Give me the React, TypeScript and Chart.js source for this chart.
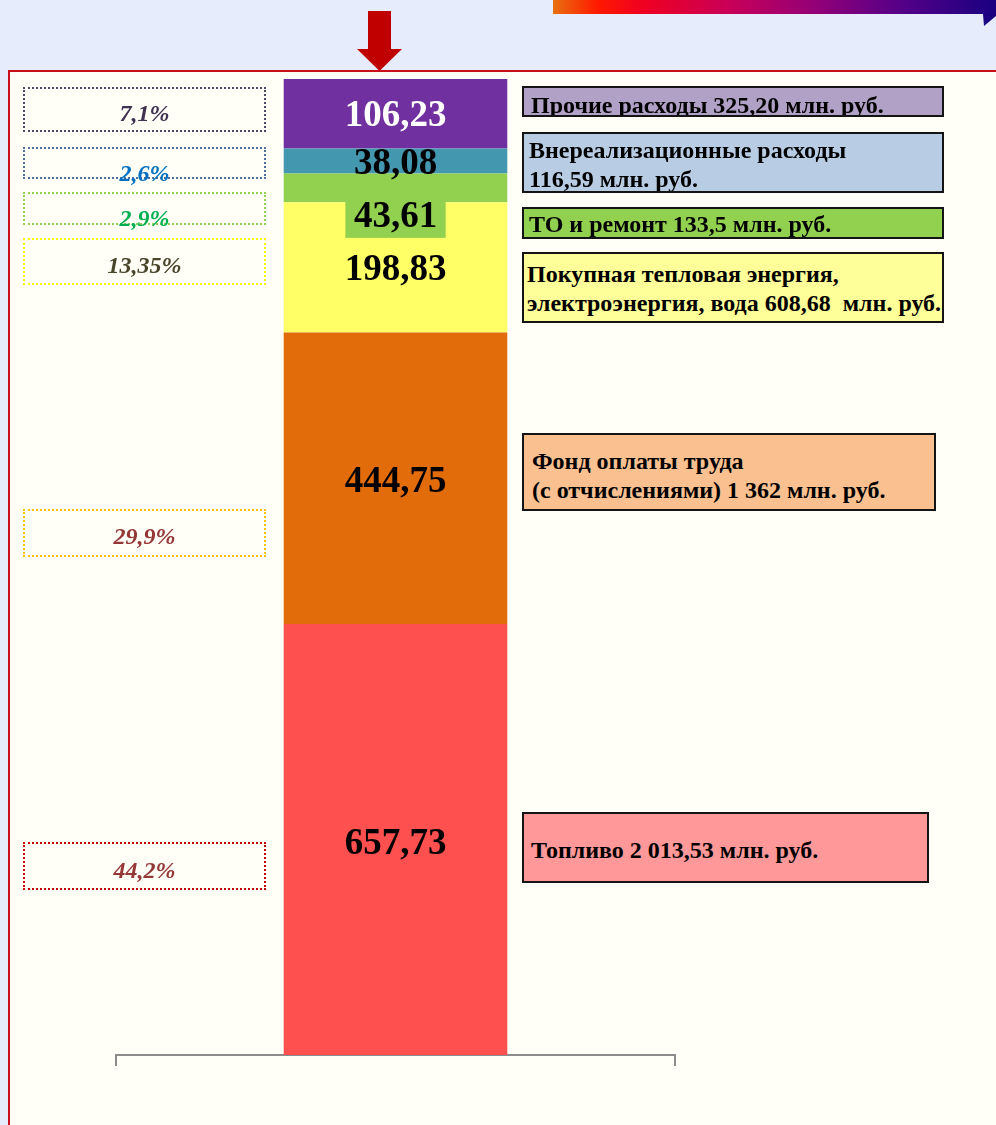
import React, { useEffect, useRef } from "react";
import { Chart, registerables } from "chart.js";

Chart.register(...registerables);

// ---- data (bottom to top of the stacked column) ----
const segmentNames = [
  "Топливо",
  "Фонд оплаты труда",
  "Покупная тепловая энергия, электроэнергия, вода",
  "ТО и ремонт",
  "Внереализационные расходы",
  "Прочие расходы",
];
const segmentValues = [657.73, 444.75, 198.83, 43.61, 38.08, 106.23];
const segmentColors = ["#FF5050", "#E36C0A", "#FFFF66", "#92D050", "#4398AF", "#7030A0"];
const labelColors = ["#000000", "#000000", "#000000", "#000000", "#000000", "#FFFFFF"];
const labelShift = [5, 4, 3, 30, 3, 3];
const labelBg = [null, null, null, "#92D050", null, null];

const percentTexts = ["44,2%", "29,9%", "13,35%", "2,9%", "2,6%", "7,1%"];
const percentColors = ["#953735", "#953735", "#4A452A", "#00B050", "#0070C0", "#403151"];
const percentBorders = ["#C00000", "#FFC000", "#FFFF00", "#92D050", "#4F6FA0", "#4A4A6A"];

const legendLines = [
  ["Топливо 2 013,53 млн. руб."],
  ["Фонд оплаты труда", "(с отчислениями) 1 362 млн. руб."],
  ["Покупная тепловая энергия,", "электроэнергия, вода 608,68  млн. руб."],
  ["ТО и ремонт 133,5 млн. руб."],
  ["Внереализационные расходы", "116,59 млн. руб."],
  ["Прочие расходы 325,20 млн. руб."],
];
const legendFills = ["#FF9999", "#FAC090", "#FFFF99", "#92D050", "#B8CCE4", "#B2A1C7"];

// ---- layout of annotation boxes (not data) ----
const legendBoxes = [
  { top: 812, height: 71, width: 407, padTop: 22.4, padLeft: 7 },
  { top: 433, height: 78, width: 414, padTop: 12.4, padLeft: 8 },
  { top: 252, height: 71, width: 422, padTop: 6.4, padLeft: 3 },
  { top: 207, height: 32, width: 422, padTop: 1.4, padLeft: 5 },
  { top: 132, height: 61, width: 422, padTop: 2.4, padLeft: 5 },
  { top: 86, height: 31, width: 422, padTop: 3.4, padLeft: 7 },
];
const percentBoxes = [
  { top: 842, height: 48, baseline: 878 },
  { top: 509, height: 48, baseline: 544 },
  { top: 238, height: 47, baseline: 273 },
  { top: 192, height: 33, baseline: 226 },
  { top: 147, height: 32, baseline: 181 },
  { top: 87, height: 45, baseline: 121 },
];

const SERIF = '"Liberation Serif", "Times New Roman", serif';
const total = segmentValues.reduce((a, b) => a + b, 0);
const fmt = (v: number) => v.toFixed(2).replace(".", ",");

const labelPlugin = {
  id: "segLabels",
  afterDatasetsDraw(chart: any) {
    const ctx = chart.ctx as CanvasRenderingContext2D;
    ctx.save();
    ctx.font = `bold 37px ${SERIF}`;
    ctx.textAlign = "center";
    ctx.textBaseline = "middle";
    chart.data.datasets.forEach((ds: any, i: number) => {
      const meta = chart.getDatasetMeta(i);
      meta.data.forEach((el: any, j: number) => {
        const p = el.getProps(["x", "y", "base"], true);
        const cy = (p.y + p.base) / 2 + labelShift[i];
        const text = fmt(ds.data[j]);
        if (labelBg[i]) {
          const w = ctx.measureText(text).width + 17;
          ctx.fillStyle = labelBg[i] as string;
          ctx.fillRect(p.x - w / 2, cy - 16, w, 36);
        }
        ctx.fillStyle = labelColors[i];
        ctx.fillText(text, p.x, cy);
      });
    });
    ctx.restore();
  },
};

export default function App() {
  const ref = useRef<HTMLCanvasElement>(null);
  useEffect(() => {
    document.body.style.margin = "0";
    if (!ref.current) return;
    const chart = new Chart(ref.current, {
      type: "bar",
      data: {
        labels: [""],
        datasets: segmentNames.map((name, i) => ({
          label: name,
          data: [segmentValues[i]],
          backgroundColor: segmentColors[i],
          borderWidth: 0,
          stack: "s",
          categoryPercentage: 0.4,
          barPercentage: 1,
        })),
      },
      options: {
        responsive: false,
        animation: false,
        layout: { padding: { left: 116, right: 321, top: 79, bottom: 59 } },
        plugins: { legend: { display: false }, tooltip: { enabled: false } },
        scales: {
          x: {
            stacked: true,
            offset: true,
            grid: {
              display: true,
              drawOnChartArea: false,
              drawTicks: true,
              tickLength: 11,
              color: "#8C8C8C",
              lineWidth: 2,
              offset: true,
            },
            border: { display: true, color: "#8C8C8C", width: 2 },
            ticks: { display: false },
          },
          y: { stacked: true, display: false, min: 0, max: total },
        },
      },
      plugins: [labelPlugin],
    });
    return () => chart.destroy();
  }, []);

  return (
    <div style={{ position: "relative", width: 996, height: 1125, overflow: "hidden", background: "#E6ECFC", fontFamily: SERIF }}>
      <div
        style={{
          position: "absolute",
          left: 553,
          top: 0,
          width: 443,
          height: 14,
          background: "linear-gradient(to right, #E87010 0%, #FF1A00 10%, #F00020 20%, #C80058 40%, #900078 60%, #500088 80%, #1A0080 100%)",
        }}
      />
      <svg style={{ position: "absolute", left: 0, top: 0 }} width={996} height={80}>
        <polygon points="983,14 996,14 996,16 984,26" fill="#1A0080" />
        <polygon points="368,11 391,11 391,49 402,49 379.5,71 357,49 368,49" fill="#C00000" />
      </svg>
      <div
        style={{
          position: "absolute",
          left: 8,
          top: 70,
          width: 1000,
          height: 1100,
          background: "#FFFFF7",
          borderTop: "2px solid #C8101A",
          borderLeft: "2px solid #C8101A",
        }}
      />
      <canvas ref={ref} width={996} height={1125} style={{ position: "absolute", left: 0, top: 0 }} />
      {percentTexts.map((t, i) => (
        <React.Fragment key={"p" + i}>
          <div
            style={{
              position: "absolute",
              left: 23,
              top: percentBoxes[i].top,
              width: 243,
              height: percentBoxes[i].height,
              boxSizing: "border-box",
              border: `2px dotted ${percentBorders[i]}`,
            }}
          />
          <div
            style={{
              position: "absolute",
              left: 23,
              width: 243,
              top: percentBoxes[i].baseline - 20,
              textAlign: "center",
              fontSize: 24,
              lineHeight: "24px",
              fontWeight: "bold",
              fontStyle: "italic",
              color: percentColors[i],
            }}
          >
            {t}
          </div>
        </React.Fragment>
      ))}
      {legendLines.map((lines, i) => (
        <div
          key={"l" + i}
          style={{
            position: "absolute",
            left: 522,
            top: legendBoxes[i].top,
            width: legendBoxes[i].width,
            height: legendBoxes[i].height,
            boxSizing: "border-box",
            border: "2px solid #141414",
            background: legendFills[i],
            paddingTop: legendBoxes[i].padTop,
            paddingLeft: legendBoxes[i].padLeft,
            fontSize: 24,
            lineHeight: "29px",
            fontWeight: "bold",
            color: "#000",
            whiteSpace: "pre",
            overflow: "hidden",
          }}
        >
          {lines.map((l, k) => (
            <div key={k}>{l}</div>
          ))}
        </div>
      ))}
    </div>
  );
}
